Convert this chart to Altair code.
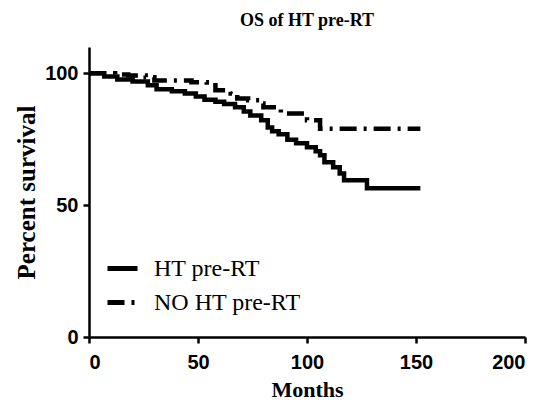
import altair as alt
import pandas as pd

groups = ["HT pre-RT", "NO HT pre-RT"]

ht_months = [0, 7, 13, 20, 27, 31, 38, 44, 49, 53, 58, 62, 67, 71, 74, 79, 82, 84, 87,
             91, 95, 100, 104, 106, 108, 112, 115, 117, 127.5, 152]
ht_surv = [100, 98.8, 97.7, 96.9, 95.5, 94, 93.2, 92.4, 91.2, 90, 89.2, 88.4, 87.1, 85.5,
           84, 82.2, 79.5, 78, 76.9, 74.8, 73.5, 72, 70.5, 68.9, 66.3, 64.4, 62, 59.5,
           56.4, 56.4]

no_months = [0, 12, 18, 26, 30, 47, 54, 58, 65, 68, 73, 79, 80, 88, 100, 106, 152]
no_surv = [100, 99.6, 99.2, 98.5, 97.3, 96.6, 95.5, 93.6, 92.4, 90.5, 89.8, 88.6, 87.1,
           84.8, 82.2, 79.0, 79.0]

x_ticks = [0, 50, 100, 150, 200]
y_ticks = [0, 50, 100]

df = pd.concat([
    pd.DataFrame({"Months": ht_months, "Survival": ht_surv, "Group": groups[0]}),
    pd.DataFrame({"Months": no_months, "Survival": no_surv, "Group": groups[1]}),
])

chart = alt.Chart(df).mark_line(
    interpolate="step-after", color="black", strokeWidth=4.5, strokeCap="butt"
).encode(
    x=alt.X("Months:Q", scale=alt.Scale(domain=[0, 200], nice=False),
            axis=alt.Axis(values=x_ticks, title="Months", grid=False,
                          titleFontSize=22, titlePadding=7, labelPadding=9)),
    y=alt.Y("Survival:Q", scale=alt.Scale(domain=[0, 110], nice=False),
            axis=alt.Axis(values=y_ticks, title="Percent survival", grid=False,
                          titleFontSize=25, titlePadding=5, labelPadding=5)),
    strokeDash=alt.StrokeDash(
        "Group:N",
        scale=alt.Scale(domain=groups, range=[[1, 0], [17, 7, 3, 7]]),
        legend=alt.Legend(
            title=None, orient="none", legendX=16, legendY=204,
            symbolType="stroke", symbolSize=900, symbolStrokeWidth=5,
            symbolStrokeColor="black",
            labelFont="Liberation Serif", labelFontSize=24, labelColor="black",
            labelOffset=14, rowPadding=4, padding=0,
        ),
    ),
    detail="Group:N",
).properties(
    width=436, height=290,
    autosize="none",
    padding={"left": 89, "top": 47, "right": 20, "bottom": 67},
    title=alt.Title("OS of HT pre-RT", font="Liberation Serif", fontSize=18,
                    fontWeight="bold", color="black", anchor="middle", offset=17),
).configure_view(stroke=None).configure_axis(
    domainColor="black", domainWidth=2.5, tickColor="black", tickWidth=2.5, tickSize=6,
    labelFont="Liberation Sans", labelFontSize=20, labelFontWeight="bold",
    labelColor="black",
    titleFont="Liberation Serif", titleFontWeight="bold",
    titleColor="black",
)

chart.save("out.html", embed_options={"renderer": "svg", "actions": False})
